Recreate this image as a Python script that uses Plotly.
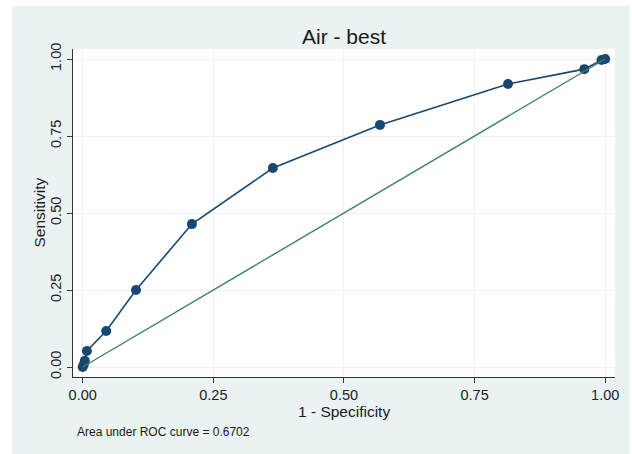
import plotly.graph_objects as go

# ROC curve points (1 - specificity, sensitivity)
fpr = [0.0, 0.002, 0.004, 0.008, 0.045, 0.102, 0.209, 0.364, 0.569, 0.814, 0.960, 0.993, 1.0]
tpr = [0.0, 0.008, 0.020, 0.052, 0.117, 0.250, 0.464, 0.646, 0.786, 0.919, 0.967, 0.997, 1.0]
ref_x = [0.0, 1.0]
ref_y = [0.0, 1.0]
tick_vals = [0, 0.25, 0.5, 0.75, 1.0]
tick_text = ["0.00", "0.25", "0.50", "0.75", "1.00"]
title_text = "Air - best"
x_title = "1 - Specificity"
y_title = "Sensitivity"
auc_text = "Area under ROC curve = 0.6702"

W, H = 632, 454
L, R, T, B = 73, 615, 49, 377  # plot area in pixels
pw, ph = R - L, B - T

def px(p):
    return (p - L) / pw

def py(p):
    return (B - p) / ph

bg = "#eaf2f3"
navy = "#1a476f"
green = "#3f8068"
font = "Liberation Sans, Arial, sans-serif"

fig = go.Figure()
fig.add_trace(go.Scatter(x=fpr, y=tpr, mode="lines+markers",
                         line=dict(color=navy, width=1.6),
                         marker=dict(color=navy, size=10), showlegend=False))
fig.add_trace(go.Scatter(x=ref_x, y=ref_y, mode="lines",
                         line=dict(color=green, width=1.4), showlegend=False))

axis_common = dict(
    tickvals=tick_vals, ticktext=tick_text, showgrid=True, gridcolor=bg, gridwidth=1,
    zeroline=False, showline=True, linecolor="#333333", linewidth=1,
    ticks="outside", ticklen=5, tickcolor="#333333", tickwidth=1,
    tickfont=dict(family=font, size=14.5, color="#222222"),
)

x0 = (L - 82.7) / 522.5
x1 = (R - 82.7) / 522.5
y0 = -(B - 367) / 308
y1 = (367 - T) / 308

fig.update_layout(
    width=W, height=H,
    margin=dict(l=L, r=W - R, t=T, b=H - B, pad=0),
    paper_bgcolor=bg, plot_bgcolor="white",
    xaxis=dict(range=[x0, x1], **axis_common),
    yaxis=dict(range=[y0, y1], tickangle=-90, **axis_common),
    font=dict(family=font),
    annotations=[
        dict(text=title_text, x=0.5, y=py(36), xref="paper", yref="paper",
             showarrow=False, font=dict(family=font, size=21, color="#1a1a1a"),
             xanchor="center", yanchor="middle"),
        dict(text=x_title, x=0.5, y=py(411), xref="paper", yref="paper",
             showarrow=False, font=dict(family=font, size=15.5, color="#1a1a1a"),
             xanchor="center", yanchor="middle"),
        dict(text=y_title, x=px(38.5), y=0.5, xref="paper", yref="paper",
             textangle=-90, showarrow=False, font=dict(family=font, size=15.5, color="#1a1a1a"),
             xanchor="center", yanchor="middle"),
        dict(text=auc_text, x=px(75), y=py(432), xref="paper", yref="paper",
             showarrow=False, font=dict(family=font, size=12, color="#1a1a1a"),
             xanchor="left", yanchor="middle"),
    ],
    shapes=[
        dict(type="rect", xref="paper", yref="paper", x0=px(0), x1=px(12), y0=py(W), y1=py(0),
             fillcolor="white", line=dict(width=0), layer="above"),
        dict(type="rect", xref="paper", yref="paper", x0=px(0), x1=px(W), y0=py(6), y1=py(0),
             fillcolor="white", line=dict(width=0), layer="above"),
        dict(type="rect", xref="paper", yref="paper", x0=px(630), x1=px(W + 5), y0=py(W), y1=py(0),
             fillcolor="white", line=dict(width=0), layer="above"),
    ],
)

fig.write_html("out.html", config={"displayModeBar": False},
               post_script="document.body.style.margin='0';document.body.style.overflow='hidden';")
